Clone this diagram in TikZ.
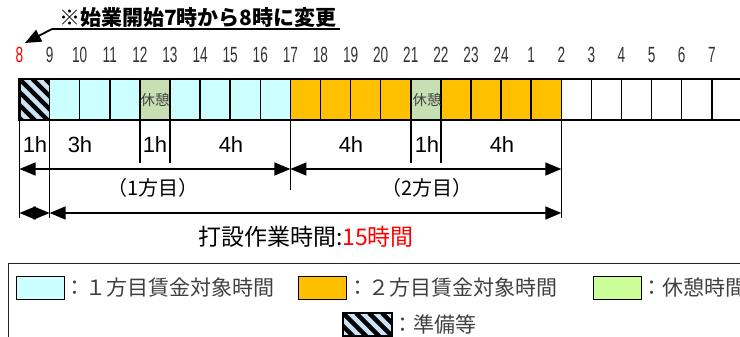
\documentclass[tikz,border=0pt]{standalone}
\usepackage{fontspec}
\setmainfont{Liberation Sans}
\newfontfamily\jpfont{Noto Sans CJK JP}
\newfontfamily\narrowfont[FakeStretch=0.62]{Liberation Sans}
\usetikzlibrary{arrows.meta}
\definecolor{shiftone}{HTML}{CCFFFF}
\definecolor{shifttwo}{HTML}{FFC000}
\definecolor{restcell}{HTML}{C6E0B4}
\definecolor{restkey}{HTML}{CCFF99}
\definecolor{prepblue}{HTML}{C9E3F7}
\definecolor{keygray}{HTML}{404040}
% hatched box for the preparation hour
\newcommand{\hatchbox}[2]{%
  \begin{scope}
    \clip (#1) rectangle (#2);
    \fill[prepblue] (#1) rectangle (#2);
    \foreach \k in {-4,...,4}
      \draw[line width=4.5pt] ([xshift=\k*13pt]#1) -- ++(50,50);
  \end{scope}
  \draw[line width=1.5pt] (#1) rectangle (#2);}

\begin{document}
\begin{tikzpicture}[x=1pt,y=-1pt,
  hour/.style={anchor=base,text=black!80,font=\narrowfont\fontsize{22}{24}\selectfont},
  spanlabel/.style={anchor=base,font=\fontsize{22}{24}\selectfont},
  jplabel/.style={font=\jpfont\fontsize{20}{22}\selectfont},
  dimline/.style={line width=1.5pt,{Triangle[length=16pt,width=13pt]}-{Triangle[length=16pt,width=13pt]}},
  tickline/.style={line width=1pt},
  swatch/.style={draw,line width=1pt,minimum width=48pt,minimum height=23pt,inner sep=0pt},
  keytext/.style={anchor=west,inner sep=0pt,text=keygray,font=\jpfont\fontsize{21}{23}\selectfont}]
\clip (0,0) rectangle (740,337);

% note at the top
\node[anchor=base,font=\jpfont\bfseries\fontsize{21}{23}\selectfont] (note) at (198,26) {※始業開始7時から8時に変更};
\coordinate (ulL) at (52,29);
\coordinate (ulR) at (340,29);
\coordinate (tipL) at (25,43);
\draw[line width=1.8pt] (ulL) -- (ulR);
\draw[line width=1.8pt,-{Triangle[length=16pt,width=13pt]}] (ulL) -- (tipL);

% time axis
\foreach \i in {0,...,25}{
  \coordinate (t\i) at ({19.5+30.1*\i},79);
  \coordinate (b\i) at ({19.5+30.1*\i},120);
}
\node[hour,red] (h0) at (t0 |- 0,63) {8};
\foreach \h [count=\i] in {9,10,11,12,13,14,15,16,17,18,19,20,21,22,23,24,1,2,3,4,5,6,7}
  \node[hour] (h\i) at (t\i |- 0,63) {\h};

% cells
\hatchbox{t0}{b1}
\foreach \i/\c in {1/shiftone,2/shiftone,3/shiftone,4/restcell,5/shiftone,6/shiftone,7/shiftone,8/shiftone,
  9/shifttwo,10/shifttwo,11/shifttwo,12/shifttwo,13/restcell,14/shifttwo,15/shifttwo,16/shifttwo,17/shifttwo,
  18/white,19/white,20/white,21/white,22/white,23/white,24/white}{
  \pgfmathtruncatemacro\j{\i+1}
  \filldraw[fill=\c,line width=1.5pt] (t\i) rectangle (b\j);
}
\draw[line width=2.2pt] (t25) -- (t0) -- (b0) -- (b25);
\node[text=black!75,font=\jpfont\fontsize{14.5}{16}\selectfont] (rest1) at (155,100) {休憩};
\node[text=black!75,font=\jpfont\fontsize{14.5}{16}\selectfont] (rest2) at (427,100) {休憩};

% spans below the cells
\foreach \i in {0,1,18} \draw[tickline] (b\i) -- ++(0,98);
\draw[tickline] (b9) -- ++(0,70);
\foreach \i in {4,5,13,14} \draw[line width=2pt] (b\i) -- ++(0,43);
\node[spanlabel] (s1) at (35,153) {1h};
\node[spanlabel] (s2) at (80,153) {3h};
\node[spanlabel] (s3) at (155,153) {1h};
\node[spanlabel] (s4) at (231,153) {4h};
\node[spanlabel] (s5) at (351,153) {4h};
\node[spanlabel] (s6) at (427,153) {1h};
\node[spanlabel] (s7) at (502,153) {4h};

\foreach \i in {0,1,9,18}{
  \coordinate (p\i) at (b\i |- 0,169);
  \coordinate (q\i) at (b\i |- 0,213);
}
\draw[dimline] (p0) -- (p9);
\draw[dimline] (p9) -- (p18);
\draw[dimline] (q0) -- (q1);
\draw[dimline] (q1) -- (q18);
\node[jplabel] (shift1) at (153,188) {（1方目）};
\node[jplabel] (shift2) at (427,188) {（2方目）};
\node[font=\jpfont\fontsize{23}{25}\selectfont] (total) at (306,237) {打設作業時間:\textcolor{red}{15時間}};

% legend
\draw[line width=1pt,black!85] (8.5,400) -- (8.5,263) -- (760,263);
\node[swatch,fill=shiftone] (k1) at (40,287.5) {};
\node[keytext] (k1t) at (k1.east) {：１方目賃金対象時間};
\node[swatch,fill=shifttwo] (k2) at (322.5,287.5) {};
\node[keytext] (k2t) at (k2.east) {：２方目賃金対象時間};
\node[swatch,fill=restkey] (k3) at (617,287.5) {};
\node[keytext] (k3t) at (k3.east) {：休憩時間};
\coordinate (k4a) at (343,313);
\coordinate (k4b) at (392,336);
\hatchbox{k4a}{k4b}
\node[keytext] (k4t) at (392,324.5) {：準備等};
\end{tikzpicture}
\end{document}
